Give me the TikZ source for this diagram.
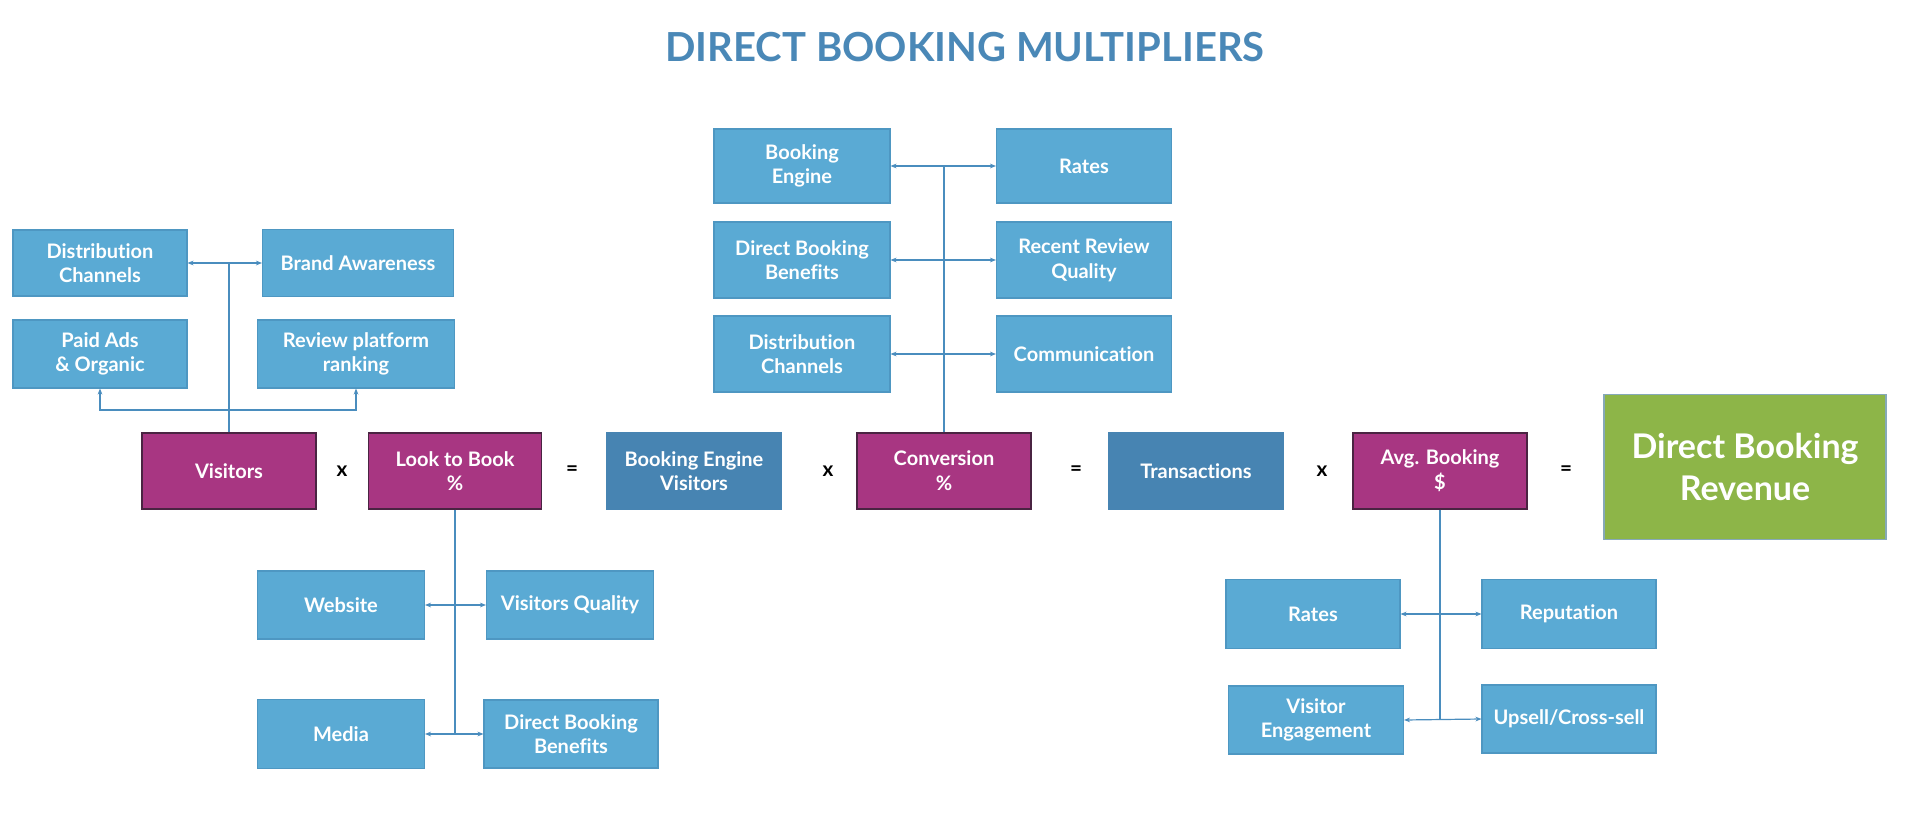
\documentclass[tikz,border=0pt]{standalone}
\usepackage{fontspec}
\setmainfont{Lato}[Ligatures=NoCommon]
\usetikzlibrary{arrows.meta}
\definecolor{lblue}{HTML}{5AAAD4}
\definecolor{lbluedraw}{HTML}{4E97C2}
\definecolor{dblue}{HTML}{4784B2}
\definecolor{mag}{HTML}{A83682}
\definecolor{magdraw}{HTML}{4A2442}
\definecolor{grn}{HTML}{8DB548}
\definecolor{grndraw}{HTML}{86A9B8}
\definecolor{conncol}{HTML}{4A8DBE}
\definecolor{titlecol}{HTML}{4A88B7}
\tikzset{
  sz/.style 2 args={minimum width=#1*0.75pt, minimum height=#2*0.75pt},
  basebox/.style={rectangle, inner sep=0pt, align=center, text=white,
    font=\fontsize{15}{18.5}\selectfont\bfseries, line width=0.8pt},
  lbox/.style={basebox, fill=lblue, draw=lbluedraw},
  dbox/.style={basebox, fill=dblue, draw=dblue},
  mbox/.style={basebox, fill=mag, draw=magdraw},
  gbox/.style={basebox, fill=grn, draw=grndraw, font=\fontsize{25.5}{31}\selectfont\bfseries},
  op/.style={font=\fontsize{15.5}{18}\selectfont\bfseries, text=black, inner sep=0pt},
  conn/.style={draw=conncol, line width=0.9pt},
  arr/.style={conn, -{Stealth[length=4.5pt,width=3.5pt]}},
  darr/.style={conn, {Stealth[length=4.5pt,width=3.5pt]}-{Stealth[length=4.5pt,width=3.5pt]}},
}
\begin{document}
\begin{tikzpicture}[x=0.75pt,y=-0.75pt]
\useasboundingbox[fill=white] (0,0) rectangle (1920,820);

% title
\node[font=\fontsize{30}{36}\selectfont\bfseries, text=titlecol] (title) at (965,47) {DIRECT BOOKING MULTIPLIERS};

% main row
\node[mbox, sz={174}{76}] (vis) at (229,471) {Visitors};
\node[op] (x1) at (342,471) {x};
\node[mbox, sz={173}{76}] (ltb) at (455,471) {Look to Book\\\%};
\node[op] (e1) at (572,471) {=};
\node[dbox, sz={174}{76}] (bev) at (694,471) {Booking Engine\\Visitors};
\node[op] (x2) at (828,471) {x};
\node[mbox, sz={174}{76}] (conv) at (944,471) {Conversion\\\%};
\node[op] (e2) at (1076,471) {=};
\node[dbox, sz={174}{76}] (tr) at (1196,471) {Transactions};
\node[op] (x3) at (1322,471) {x};
\node[mbox, sz={174}{76}] (avg) at (1440,471) {Avg. Booking\\\$};
\node[op] (e3) at (1566,471) {=};
\node[gbox, sz={282}{145}] (dbr) at (1745,467) {Direct Booking\\Revenue};

% left group (Visitors)
\node[lbox, sz={174}{66}] (dc1) at (100,263) {Distribution\\Channels};
\node[lbox, sz={191}{67}] (ba) at (358,263) {Brand Awareness};
\node[lbox, sz={174}{68}] (pa) at (100,354) {Paid Ads\\\& Organic};
\node[lbox, sz={197}{68}] (rp) at (356,354) {Review platform\\ranking};

\coordinate (j1) at (vis.north |- dc1.east);
\coordinate (j2) at (229,410);
\draw[conn] (vis.north) -- (j1);
\draw[darr] (dc1.east) -- (ba.west);
\draw[arr] (j2) -| (pa.south);
\draw[arr] (j2) -| (rp.south);

% upper middle group (Conversion)
\node[lbox, sz={176}{74}] (be) at (802,166) {Booking\\Engine};
\node[lbox, sz={175}{74}] (rt1) at (1084,166) {Rates};
\node[lbox, sz={176}{76}] (dbb1) at (802,260) {Direct Booking\\Benefits};
\node[lbox, sz={175}{76}] (rrq) at (1084,260) {Recent Review\\Quality};
\node[lbox, sz={176}{76}] (dc2) at (802,354) {Distribution\\Channels};
\node[lbox, sz={175}{76}] (comm) at (1084,354) {Communication};

\coordinate (j3) at (conv.north |- be.east);
\draw[conn] (conv.north) -- (j3);
\draw[darr] (be.east) -- (rt1.west);
\draw[darr] (dbb1.east) -- (rrq.west);
\draw[darr] (dc2.east) -- (comm.west);

% lower left group (Look to Book)
\node[lbox, sz={167}{68}] (web) at (341,605) {Website};
\node[lbox, sz={167}{68}] (vq) at (570,605) {Visitors Quality};
\node[lbox, sz={167}{69}] (med) at (341,734) {Media};
\node[lbox, sz={174}{68}] (dbb2) at (571,734) {Direct Booking\\Benefits};

\coordinate (j4) at (ltb.south |- med.east);
\draw[conn] (ltb.south) -- (j4);
\draw[darr] (web.east) -- (vq.west);
\draw[darr] (med.east) -- (dbb2.west);

% lower right group (Avg. Booking)
\node[lbox, sz={174}{69}] (rt2) at (1313,614) {Rates};
\node[lbox, sz={174}{69}] (rep) at (1569,614) {Reputation};
\node[lbox, sz={175}{68}] (ve) at (1316,720) {Visitor\\Engagement};
\node[lbox, sz={174}{68}] (ups) at (1569,719) {Upsell/Cross-sell};

\coordinate (j5) at (avg.south |- ups.west);
\draw[conn] (avg.south) -- (j5);
\draw[darr] (rt2.east) -- (rep.west);
\draw[darr] (ve.east) -- (ups.west);
\end{tikzpicture}
\end{document}
